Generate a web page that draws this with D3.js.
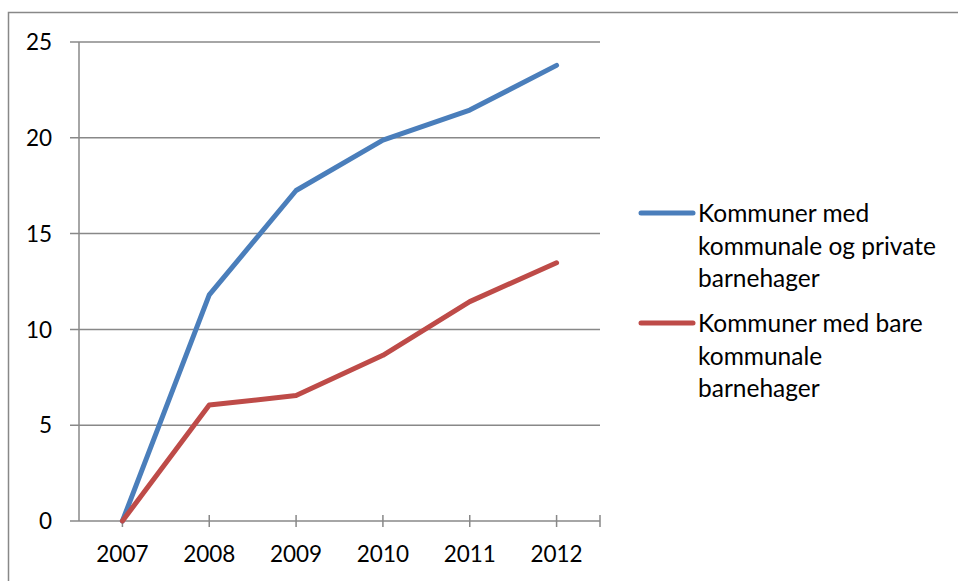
<!DOCTYPE html>
<html>
<head>
<meta charset="utf-8">
<script src="https://cdn.jsdelivr.net/npm/d3@7"></script>
<style>
  body { margin: 0; background: #fff; }
  svg { display: block; font-family: Lato, "Open Sans", sans-serif; }
  text { fill: #000; }
</style>
</head>
<body>
<svg class="chart" width="958" height="581"></svg>
<script>
var years = ["2007", "2008", "2009", "2010", "2011", "2012"];
var privatOgKommunal = [0, 11.8, 17.25, 19.88, 21.45, 23.78];
var bareKommunal = [0, 6.05, 6.55, 8.65, 11.45, 13.48];
var yTicks = [0, 5, 10, 15, 20, 25];
var seriesNames = [
  ["Kommuner med", "kommunale og private", "barnehager"],
  ["Kommuner med bare", "kommunale", "barnehager"]
];
var colours = ["#4a7ebb", "#be4b48"];

var margin = {top: 42, left: 79},
    width = 600 - 79,
    height = 521 - 42;

var chart = d3.select(".chart");

// outer frame
chart.append("rect")
    .attr("x", 8.5).attr("y", 12.5)
    .attr("width", 960).attr("height", 600)
    .attr("fill", "none")
    .attr("stroke", "#888").attr("stroke-width", 1.5);

var g = chart.append("g")
    .attr("transform", "translate(" + margin.left + "," + margin.top + ")");

var xScale = d3.scaleBand().domain(years).range([0, width]);
var yScale = d3.scaleLinear().domain([0, 25]).range([height, 0]);
var xMid = function(d) { return xScale(d) + xScale.bandwidth() / 2; };

// horizontal gridlines with left ticks
g.selectAll(".grid")
    .data(yTicks)
  .enter().append("line")
    .attr("class", "grid")
    .attr("x1", -9).attr("x2", width)
    .attr("y1", function(d) { return yScale(d); })
    .attr("y2", function(d) { return yScale(d); })
    .attr("stroke", "#888").attr("stroke-width", 1.5);

g.append("line")
    .attr("x1", 0).attr("x2", 0)
    .attr("y1", 0).attr("y2", height)
    .attr("stroke", "#888").attr("stroke-width", 1.5);

g.selectAll(".ylab")
    .data(yTicks)
  .enter().append("text")
    .attr("class", "ylab")
    .attr("x", -27)
    .attr("y", function(d) { return yScale(d); })
    .attr("dy", "0.36em")
    .attr("text-anchor", "end")
    .style("font-size", "22.5px")
    .text(function(d) { return d; });

// x tick marks at categories and at the end of the axis
var tickX = years.map(xMid).concat([width]);
g.selectAll(".xtick")
    .data(tickX)
  .enter().append("line")
    .attr("x1", function(d) { return d; })
    .attr("x2", function(d) { return d; })
    .attr("y1", function(d, i) { return i === 0 ? height : height - 6; })
    .attr("y2", height + 6)
    .attr("stroke", "#888").attr("stroke-width", 1.5);

g.selectAll(".xlab")
    .data(years)
  .enter().append("text")
    .attr("class", "xlab")
    .attr("x", xMid)
    .attr("y", height + 41)
    .attr("text-anchor", "middle")
    .style("font-size", "22.5px")
    .text(function(d) { return d; });

var line = d3.line()
    .x(function(d, i) { return xMid(years[i]); })
    .y(function(d) { return yScale(d); });

[privatOgKommunal, bareKommunal].forEach(function(s, i) {
  g.append("path")
      .datum(s)
      .attr("d", line)
      .attr("fill", "none")
      .attr("stroke", colours[i])
      .attr("stroke-width", 5)
      .attr("stroke-linejoin", "round")
      .attr("stroke-linecap", "round");
});

// legend
var legendY = [213, 323];
var legend = chart.selectAll(".legend")
    .data(seriesNames)
  .enter().append("g")
    .attr("class", "legend")
    .attr("transform", function(d, i) { return "translate(641," + legendY[i] + ")"; });

legend.append("line")
    .attr("x1", 0).attr("x2", 52)
    .attr("stroke", function(d, i) { return colours[i]; })
    .attr("stroke-width", 5)
    .attr("stroke-linecap", "round");

legend.append("text")
    .attr("x", 57)
    .attr("y", 0)
    .style("font-size", "24.5px")
    .selectAll("tspan")
    .data(function(d) { return d; })
  .enter().append("tspan")
    .attr("x", 57)
    .attr("dy", function(d, i) { return i === 0 ? "0.36em" : "1.34em"; })
    .text(function(d) { return d; });
</script>
</body>
</html>
